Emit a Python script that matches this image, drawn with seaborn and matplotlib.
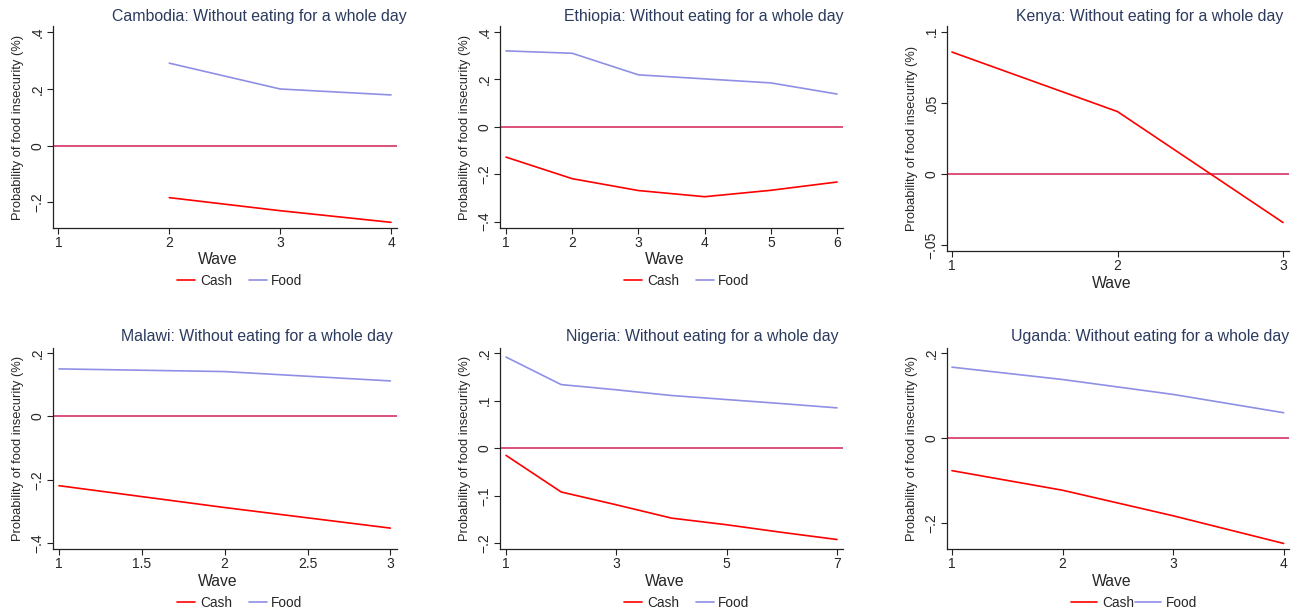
import matplotlib
matplotlib.use('Agg')
import pandas as pd
import matplotlib.pyplot as plt
import seaborn as sns

# values (probability of food insecurity by wave)
cambodia_wave = [2, 3, 4]
cambodia_cash = [-0.183, -0.229, -0.270]
cambodia_food = [0.291, 0.200, 0.179]

ethiopia_wave = [1, 2, 3, 4, 5, 6]
ethiopia_cash = [-0.128, -0.219, -0.269, -0.295, -0.268, -0.233]
ethiopia_food = [0.320, 0.310, 0.219, 0.202, 0.185, 0.138]

kenya_wave = [1, 2, 3]
kenya_cash = [0.0857, 0.0439, -0.034]

malawi_wave = [1, 2, 3]
malawi_cash = [-0.219, -0.288, -0.353]
malawi_food = [0.150, 0.1415, 0.112]

nigeria_wave = [1, 2, 3, 4, 5, 6, 7]
nigeria_cash = [-0.015, -0.092, -0.119, -0.147, -0.161, -0.177, -0.192]
nigeria_food = [0.192, 0.134, 0.123, 0.111, 0.1025, 0.094, 0.085]

uganda_wave = [1, 2, 3, 4]
uganda_cash = [-0.076, -0.122, -0.182, -0.247]
uganda_food = [0.167, 0.138, 0.103, 0.060]

countries = ['Cambodia', 'Ethiopia', 'Kenya', 'Malawi', 'Nigeria', 'Uganda']
y_ticks = {
    'Cambodia': ([-0.2, 0, 0.2, 0.4], ['\u2212.2', '0', '.2', '.4']),
    'Ethiopia': ([-0.4, -0.2, 0, 0.2, 0.4], ['\u2212.4', '\u2212.2', '0', '.2', '.4']),
    'Kenya': ([-0.05, 0, 0.05, 0.1], ['\u2212.05', '0', '.05', '.1']),
    'Malawi': ([-0.4, -0.2, 0, 0.2], ['\u2212.4', '\u2212.2', '0', '.2']),
    'Nigeria': ([-0.2, -0.1, 0, 0.1, 0.2], ['\u2212.2', '\u2212.1', '0', '.1', '.2']),
    'Uganda': ([-0.2, 0, 0.2], ['\u2212.2', '0', '.2']),
}
x_ticks = {
    'Cambodia': ([1, 2, 3, 4], ['1', '2', '3', '4']),
    'Ethiopia': ([1, 2, 3, 4, 5, 6], ['1', '2', '3', '4', '5', '6']),
    'Kenya': ([1, 2, 3], ['1', '2', '3']),
    'Malawi': ([1, 1.5, 2, 2.5, 3], ['1', '1.5', '2', '2.5', '3']),
    'Nigeria': ([1, 3, 5, 7], ['1', '3', '5', '7']),
    'Uganda': ([1, 2, 3, 4], ['1', '2', '3', '4']),
}

data = {
    'Cambodia': (cambodia_wave, cambodia_cash, cambodia_food),
    'Ethiopia': (ethiopia_wave, ethiopia_cash, ethiopia_food),
    'Kenya': (kenya_wave, kenya_cash, None),
    'Malawi': (malawi_wave, malawi_cash, malawi_food),
    'Nigeria': (nigeria_wave, nigeria_cash, nigeria_food),
    'Uganda': (uganda_wave, uganda_cash, uganda_food),
}

# layout in pixels: axes box (left, top, right, bottom), limits, title right edge, legend centre
layout = {
    'Cambodia': dict(box=(53, 26, 397, 228), xlim=(0.951, 4.054), ylim=(-0.29, 0.422), title=(407, 16), leg=(240, 281), wave=(218, 260)),
    'Ethiopia': dict(box=(500, 26, 843, 228), xlim=(0.9095, 6.09), ylim=(-0.427, 0.425), title=(844, 16), leg=(687, 281), wave=(665, 260)),
    'Kenya': dict(box=(947, 26, 1289, 251), xlim=(0.97, 3.036), ylim=(-0.054, 0.104), title=(1283, 16), leg=None, wave=(1112, 283)),
    'Malawi': dict(box=(53, 348, 397, 549), xlim=(0.964, 3.04), ylim=(-0.419, 0.216), title=(393, 337), leg=(240, 603), wave=(218, 582)),
    'Nigeria': dict(box=(500, 348, 843, 549), xlim=(0.891, 7.109), ylim=(-0.212, 0.211), title=(839, 337), leg=(687, 603), wave=(665, 582)),
    'Uganda': dict(box=(947, 348, 1289, 549), xlim=(0.955, 4.048), ylim=(-0.26, 0.212), title=(1289, 337), leg=(1134, 603), wave=(1112, 582)),
}

CASH = '#ff0000'
FOOD = '#8f8fe6'
ZERO = '#d8436f'
TITLE = '#2b3a5e'

sns.set_style('ticks')
plt.rcParams['font.family'] = ['Liberation Sans', 'DejaVu Sans']

W, H = 1305, 614
fig = plt.figure(figsize=(W / 100, H / 100), dpi=100)

for c in countries:
    wave, cash, food = data[c]
    lay = layout[c]
    l, t, r, b = lay['box']
    ax = fig.add_axes([l / W, 1 - b / H, (r - l) / W, (b - t) / H])
    aw, ah = r - l, b - t

    df = pd.DataFrame({'wave': wave, 'cash': cash})
    sns.lineplot(data=df, x='wave', y='cash', color=CASH, lw=1.2, ax=ax, label='Cash', legend=False)
    handles = [ax.lines[-1]]
    if food is not None:
        df['food'] = food
        sns.lineplot(data=df, x='wave', y='food', color=FOOD, lw=1.2, ax=ax, label='Food', legend=False)
        handles.append(ax.lines[-1])
    ax.axhline(0, color=ZERO, lw=1.3, zorder=1)

    ax.set_xlim(*lay['xlim'])
    ax.set_ylim(*lay['ylim'])
    xt, xl = x_ticks[c]
    ax.set_xticks(xt, xl)
    yt, yl = y_ticks[c]
    ax.set_yticks(yt, yl, rotation=90, va='center')

    sns.despine(ax=ax)
    for s in ['left', 'bottom']:
        ax.spines[s].set_linewidth(0.9)
        ax.spines[s].set_color('#222222')
    ax.tick_params(length=4, width=0.8, color='#222222', labelsize=10, pad=2)

    ax.set_xlabel('Wave', fontsize=11.3, va='center')
    ax.xaxis.set_label_coords((lay['wave'][0] - l) / aw, (b - lay['wave'][1]) / ah)
    ax.set_ylabel('Probability of food insecurity (%)', fontsize=9.3, va='center')
    ax.yaxis.set_label_coords(-35 / aw, 0.5)

    fig.text(lay['title'][0] / W, 1 - lay['title'][1] / H, f'{c}: Without eating for a whole day',
             ha='right', va='center', fontsize=11.4, color=TITLE)

    if lay['leg'] is not None:
        lx, ly = lay['leg']
        tight = c == 'Uganda'
        ax.legend(handles=handles, labels=['Cash', 'Food'][:len(handles)], ncol=2, frameon=False,
                  loc='center', bbox_to_anchor=((lx - l) / aw, (b - ly) / ah),
                  fontsize=9.8, handlelength=1.9 if tight else 1.32,
                  handletextpad=0.4 if tight else 0.35,
                  columnspacing=0.05 if tight else 1.2,
                  borderpad=0, borderaxespad=0)

fig.savefig('out.png', dpi=100)
